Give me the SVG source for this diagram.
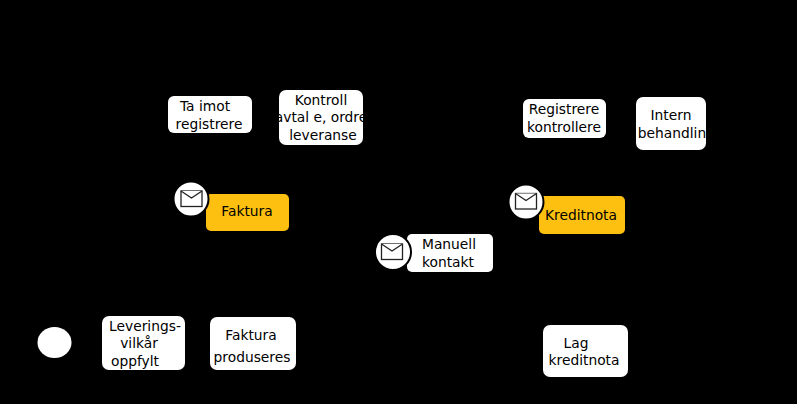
<svg xmlns="http://www.w3.org/2000/svg" width="797" height="404" viewBox="0 0 797 404">
<style>
.box{fill:#fff}
.org{fill:#fdc010}
.circ{fill:#fff;stroke:#000;stroke-width:2}
.env{fill:#fff;stroke:#222;stroke-width:1.3;stroke-linejoin:miter}
text{font-family:"DejaVu Sans",Verdana,sans-serif;font-size:13.8px;fill:#000;text-anchor:middle}
</style>
<defs>
<g id="envelope"><rect class="env" x="-10.500" y="-8" width="21" height="15.500"/><path class="env" d="M-10.500 -8L0 -1L10.500 -8" fill="none"/></g>
</defs>
<rect width="797" height="404" fill="#000"/>
<g id="connectors"/>
<g id="start"><ellipse cx="54.500" cy="342.500" rx="17" ry="15.500" fill="#fff"/></g>
<g id="ta-imot"><rect class="box" x="168" y="96" width="84" height="37" rx="6"/><text x="205" y="111">Ta imot</text><text x="209" y="129">registrere</text></g>
<g id="kontroll"><rect class="box" x="279" y="90" width="84" height="55" rx="7"/><text x="321" y="105">Kontroll</text><text x="321" y="122">avtal e, ordre</text><text x="323" y="140">leveranse</text></g>
<g id="faktura"><rect class="org" x="206" y="194" width="83" height="37" rx="5"/><text x="247" y="216">Faktura</text><circle class="circ" cx="191" cy="199" r="17.500"/><use href="#envelope" x="191.500" y="199"/></g>
<g id="registrere"><rect class="box" x="523" y="99" width="83" height="39" rx="6"/><text x="564" y="114">Registrere</text><text x="564" y="132">kontrollere</text></g>
<g id="intern"><rect class="box" x="636" y="97" width="70" height="53" rx="7"/><text x="671" y="120">Intern</text><text x="672" y="138">behandlin</text></g>
<g id="kreditnota"><rect class="org" x="539" y="196" width="86" height="38" rx="5"/><text x="581" y="220">Kreditnota</text><circle class="circ" cx="526" cy="202" r="17.500"/><use href="#envelope" x="526" y="201.500"/></g>
<g id="manuell"><rect class="box" x="407" y="234" width="86" height="38" rx="5"/><text x="449" y="249">Manuell</text><text x="448" y="267">kontakt</text><circle class="circ" cx="393" cy="252" r="18"/><use href="#envelope" x="392" y="252"/></g>
<g id="leverings"><rect class="box" x="102" y="316" width="83" height="54" rx="7"/><text x="145" y="331">Leverings-</text><text x="139" y="348">vilkår</text><text x="135" y="366">oppfylt</text></g>
<g id="faktura-prod"><rect class="box" x="210" y="317" width="86" height="53" rx="7"/><text x="251" y="340">Faktura</text><text x="252" y="362">produseres</text></g>
<g id="lag"><rect class="box" x="543" y="325" width="85" height="52" rx="7"/><text x="576" y="348">Lag</text><text x="584" y="365">kreditnota</text></g>
</svg>
